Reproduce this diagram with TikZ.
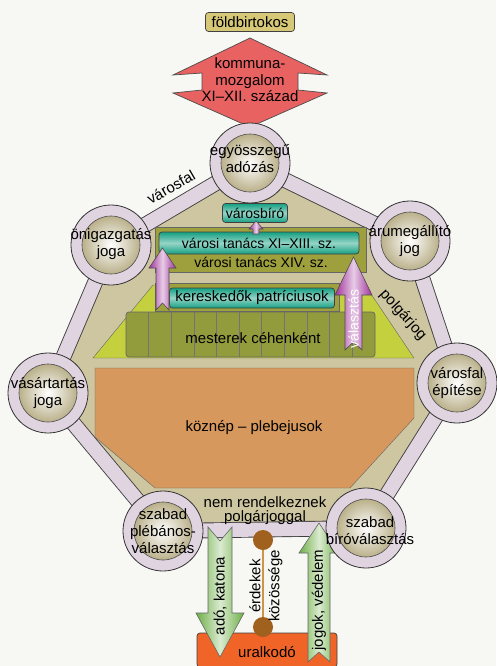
\documentclass[tikz,border=0pt]{standalone}
\usepackage{fontspec}
\setmainfont{Liberation Sans}
\usetikzlibrary{positioning}

\definecolor{paperc}{RGB}{247,247,244}
\definecolor{khakic}{RGB}{206,198,160}
\definecolor{wallc}{RGB}{224,212,224}
\definecolor{corec}{RGB}{186,176,138}
\definecolor{tealc}{RGB}{20,160,130}
\definecolor{olivec}{RGB}{158,160,62}
\definecolor{limec}{RGB}{196,208,62}
\definecolor{guildc}{RGB}{146,156,60}
\definecolor{orangec}{RGB}{214,152,92}
\definecolor{purpc}{RGB}{160,50,155}
\definecolor{greenc}{RGB}{110,175,70}
\definecolor{redc}{RGB}{232,98,98}
\definecolor{ownerc}{RGB}{214,200,118}
\definecolor{brownc}{RGB}{160,96,30}
\definecolor{stickc}{RGB}{205,150,70}
\definecolor{kingc}{RGB}{240,100,40}

\begin{document}
\begin{tikzpicture}[x=1pt,y=-1pt,
  every node/.style={font=\fontsize{15}{17}\selectfont},
  small/.style={font=\fontsize{14}{16}\selectfont},
  ring/.style={circle,draw=black!80,line width=0.8pt,fill=wallc,minimum size=80pt,inner sep=0pt},
  core/.style={circle,draw=black!70,line width=0.6pt,inner color=white,outer color=corec,minimum size=58pt,inner sep=0pt},
  ctext/.style={align=center,inner sep=0pt},
  wall/.style={draw=black!75,line width=0.9pt,double=wallc,double distance=14pt,line join=round},
  box/.style={draw=black!75,line width=0.7pt,rounded corners=3pt},
  teal/.style={box,left color=tealc,right color=tealc,middle color=tealc!45!white,shading angle=0},
  parrow/.style={draw=black!70,line width=0.6pt,left color=purpc,right color=purpc,middle color=purpc!25!white},
  garrow/.style={draw=black!60,line width=0.6pt,left color=greenc,right color=greenc,middle color=greenc!25!white},
  dot/.style={circle,fill=brownc,minimum size=20pt,inner sep=0pt}]

  \fill[paperc] (0,0) rectangle (496,666);
  \useasboundingbox (0,0) rectangle (496,666);

  \coordinate (wT)  at (250,163);
  \coordinate (wUR) at (410,241);
  \coordinate (wR)  at (457,383);
  \coordinate (wLR) at (366,528);
  \coordinate (wLL) at (163,531);
  \coordinate (wL)  at (48,393);
  \coordinate (wUL) at (111,245);

  \node[box,fill=ownerc,minimum width=89pt,minimum height=19pt] (owner) at (250,22) {földbirtokos};

  \draw[draw=black!70,line width=0.7pt,fill=redc]
    (250,38) -- (173,75) -- (202,73) -- (202,90) -- (173,93) -- (250,127)
    -- (327,93) -- (298,90) -- (298,73) -- (327,75) -- cycle;
  \node[align=center,font=\fontsize{15}{16.5}\selectfont] (komm) at (250,80) {kommuna-\\mozgalom\\XI–XII. század};

  \fill[khakic] (wT) -- (wUR) -- (wR) -- (wLR) -- (wLL) -- (wL) -- (wUL) -- cycle;
  \draw[wall] (wT) -- (wUR) -- (wR) -- (wLR) -- (wLL) -- (wL) -- (wUL) -- cycle;

  \node[rotate=30] (fal) at (171,187) {városfal};

  \draw[black!60,fill=olivec] (155,227) rectangle (366,272);
  \node[teal,small,minimum width=200pt,minimum height=22pt] (tan1) at (259,243) {városi tanács XI–XIII. sz.};
  \node[small] (tan2) at (261,262) {városi tanács XIV. sz.};
  \node[teal,small,minimum width=65pt,minimum height=19pt,inner sep=1pt] (biro) at (255,213) {városbíró};

  \draw[black!60,fill=limec] (153,285) -- (365,285) -- (414,358) -- (93,358) -- cycle;
  \draw[black!60,fill=olivec] (155,283) rectangle (339,311);
  \node[teal,minimum width=165pt,minimum height=20pt,inner sep=1pt] (keresk) at (252,298) {kereskedők patríciusok};
  \node[rotate=-48,inner sep=0pt] (pjog) at (403,315) {polgárjog};

  \draw[box,draw=black!60,fill=guildc] (126,312) rectangle (375,357);
  \foreach \i in {1,...,10}
    \draw[black!55] ({126+22.6*\i},312) -- ({126+22.6*\i},357);
  \node (mest) at (253,338) {mesterek céhenként};

  \draw[parrow] (156,310) -- (156,268) -- (149,268) -- (162.5,248) -- (176,268)
    -- (169,268) -- (169,310) -- (162.5,303) -- cycle;
  \draw[parrow] (345,350) -- (345,295) -- (335,295) -- (353.5,257) -- (372,295)
    -- (362,295) -- (362,350) -- (353.5,342) -- cycle;
  \node[rotate=90,white,small,inner sep=0pt] (val) at (353.5,319) {választás};
  \draw[parrow] (253,234) -- (253,229) -- (249,229) -- (256,221) -- (263,229)
    -- (259,229) -- (259,234) -- cycle;

  \draw[black!60,fill=orangec] (95,368) -- (414,368) -- (414,418) -- (350,488)
    -- (155,488) -- (95,437) -- cycle;
  \node (koz) at (254,428) {köznép – plebejusok};

  \node[inner sep=0pt] (nem) at (265,502) {nem rendelkeznek};
  \node[below=3pt of nem,inner sep=0pt] (pjg) {polgárjoggal};

  \node[box,fill=kingc,minimum width=140pt,minimum height=34pt] (king) at (267,650) {};
  \node (uralk) at (267,652) {uralkodó};

  \node[dot] (e1) at (263,540) {};
  \node[dot] (e2) at (263,627) {};
  \draw[stickc,line width=2.2pt] (e1) -- (e2);
  \node[rotate=90,align=center,font=\fontsize{15}{19}\selectfont,inner sep=0pt] (erdek) at (266,586) {érdekek\\közössége};

  \draw[garrow] (208,527) -- (220,541) -- (232,527) -- (232,613) -- (244,613)
    -- (220,657) -- (196,613) -- (208,613) -- cycle;
  \node[rotate=90,inner sep=0pt] (ado) at (220,596) {adó, katona};
  \draw[garrow] (308,662) -- (308,553) -- (299,553) -- (319,523) -- (339,553)
    -- (330,553) -- (330,662) -- (319,652) -- cycle;
  \node[rotate=90,inner sep=0pt] (jog) at (319,600) {jogok, védelem};

  \foreach \p/\t/\dx/\dy in {T/{egyösszegű\\adózás}/0/4, UR/{árumegállító\\jog}/0/0, R/{városfal\\építése}/0/0,
      LR/{szabad\\bíróválasztás}/4/-3, LL/{szabad\\plébános-\\választás}/0/0, L/{vásártartás\\joga}/0/0,
      UL/{önigazgatás\\joga}/0/1}
  {
    \node[ring] (r\p) at (w\p) {};
    \node[core] at (r\p) {};
    \node[ctext] at ([xshift=\dx pt,yshift=\dy pt]r\p) {\t};
  }
\end{tikzpicture}
\end{document}
